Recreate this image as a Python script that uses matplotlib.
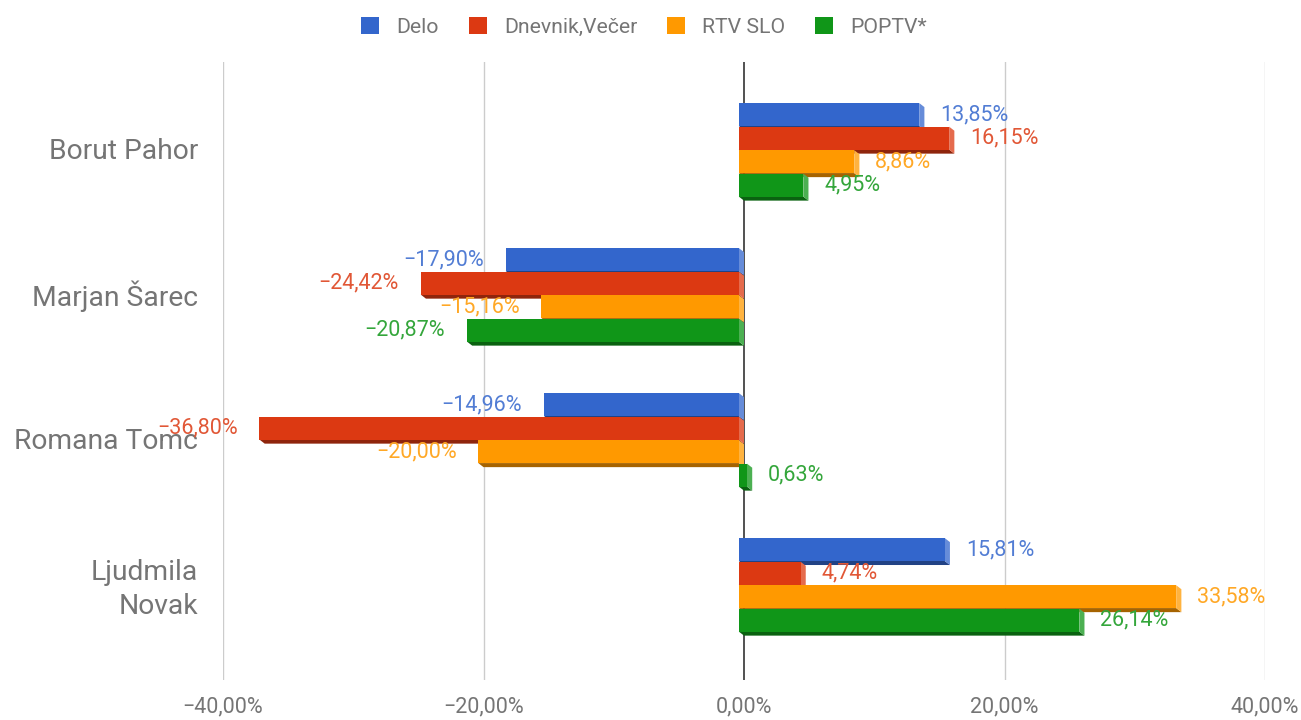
import matplotlib
matplotlib.use("Agg")
import matplotlib.pyplot as plt
from matplotlib.patches import Polygon, Patch
from matplotlib.colors import to_rgb
import matplotlib.transforms as mtransforms
import numpy as np

plt.rcParams['font.family'] = ['Roboto', 'DejaVu Sans']

categories = ["Borut Pahor", "Marjan Šarec", "Romana Tomc", "Ljudmila\nNovak"]
series = ["Delo", "Dnevnik,Večer", "RTV SLO", "POPTV*"]
colors = ["#3366CC", "#DC3912", "#FF9900", "#109618"]
delo = [13.85, -17.90, -14.96, 15.81]
dnevnik = [16.15, -24.42, -36.80, 4.74]
rtv = [8.86, -15.16, -20.00, 33.58]
poptv = [4.95, -20.87, 0.63, 26.14]
values = [delo, dnevnik, rtv, poptv]
xticks = [-40, -20, 0, 20, 40]
xticklabels = ["\u221240,00%", "\u221220,00%", "0,00%", "20,00%", "40,00%"]

def mix(c, t, f):
    c = np.array(to_rgb(c)); t = np.array(to_rgb(t))
    return tuple(c * (1 - f) + t * f)

fig = plt.figure(figsize=(13.01, 7.2), dpi=100)
ax = fig.add_axes([223/1301, 1 - 680/720, (1265-223)/1301, (680-62)/720])
ax.set_xlim(-40, 40)
ax.set_ylim(3.655, -0.607)

h = 0.158
offsets = [-0.245, -0.082, 0.08, 0.242]
dx = 0.40   # depth in data x units
dy = 0.028  # depth in category units

ypos = np.arange(len(categories))
for si, (vals, col) in enumerate(zip(values, colors)):
    z = 3 + si
    for ci, v in enumerate(vals):
        yc = ypos[ci] + offsets[si]
        top, bot = yc - h/2, yc + h/2
        bf = Polygon([(-dx, bot), (v - dx, bot), (v, bot + dy), (0, bot + dy)],
                     closed=True, facecolor=mix(col, "black", 0.35), edgecolor='none', zorder=z)
        ax.add_patch(bf)
        xe = max(v, 0)
        rf = Polygon([(xe - dx, top), (xe, top + dy), (xe, bot + dy), (xe - dx, bot)],
                     closed=True, facecolor=mix(col, "white", 0.25), edgecolor='none', zorder=z)
        ax.add_patch(rf)
    ax.barh(ypos + offsets[si], vals, height=h, left=-dx, color=col, zorder=z + 0.1)
    for ci, v in enumerate(vals):
        yc = ypos[ci] + offsets[si]
        txt = f"{abs(v):.2f}%".replace(".", ",")
        lc = mix(col, "white", 0.15)
        if v >= 0:
            ax.annotate(txt, (v, yc), xytext=(11.5, 0), textcoords='offset points',
                        ha='left', va='center', color=lc, fontsize=15.5, zorder=20)
        else:
            ax.annotate("\u2212" + txt, (v, yc), xytext=(-19.5, 0), textcoords='offset points',
                        ha='right', va='center', color=lc, fontsize=15.5, zorder=20)

for t in xticks:
    if t == 0:
        ax.axvline(0, color="#333333", lw=1.2, zorder=2)
    else:
        ax.axvline(t, color="#cccccc", lw=1, zorder=1)
ax.axvspan(-40.75, -40.05, color="#e6e6e6", zorder=0, lw=0)

ax.set_xticks(xticks)
ax.set_xticklabels(xticklabels, color="#757575", fontsize=15.5)
ax.set_yticks(ypos)
ax.set_yticklabels(categories, color="#757575", fontsize=20.3, linespacing=1.32)
ax.tick_params(axis='x', length=0, pad=12)
ax.tick_params(axis='y', length=0, pad=18)
shift = mtransforms.ScaledTranslation(0, 1.3/72, fig.dpi_scale_trans)
for lab in ax.get_yticklabels():
    lab.set_transform(lab.get_transform() + shift)
for s in ax.spines.values():
    s.set_visible(False)

handles = [Patch(facecolor=c, edgecolor='none') for c in colors]
leg = fig.legend(handles, series, loc='center', bbox_to_anchor=(0.495, 1 - 27/720), ncol=4,
                 frameon=False, fontsize=15.3, handlelength=0.85, handleheight=0.85,
                 columnspacing=1.4, handletextpad=0.8)
for t in leg.get_texts():
    t.set_color("#757575")

fig.savefig("out.png", dpi=100)
